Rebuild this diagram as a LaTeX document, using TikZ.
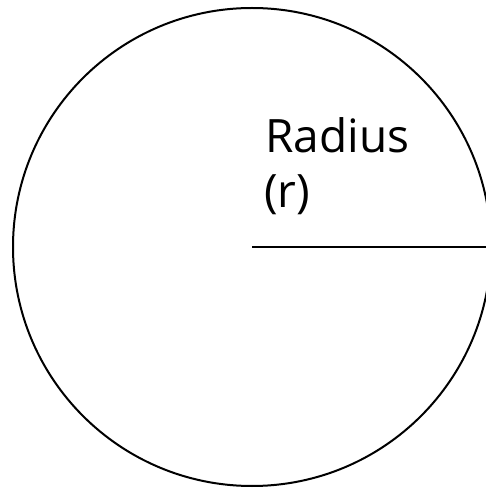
\documentclass[tikz,border=0pt]{standalone}
\usepackage{fontspec}
\setmainfont{Open Sans}
\begin{document}
\begin{tikzpicture}[x=1pt,y=1pt,
  lbl/.style={anchor=base west,inner sep=0pt,font=\fontsize{46}{56}\selectfont},
  edge/.style={line width=2pt,black}]
\useasboundingbox (0,0) rectangle (486,488);
\clip (0,0) rectangle (486,488);
\coordinate (c) at (252,241);
\coordinate (r) at (486,241);
\draw[edge] (c) circle[radius=239];
\draw[edge] (c) -- (r);
\node[lbl] (t1) at (265,335) {Radius};
\node[lbl] (t2) at (264,280) {(r)};
\end{tikzpicture}
\end{document}
